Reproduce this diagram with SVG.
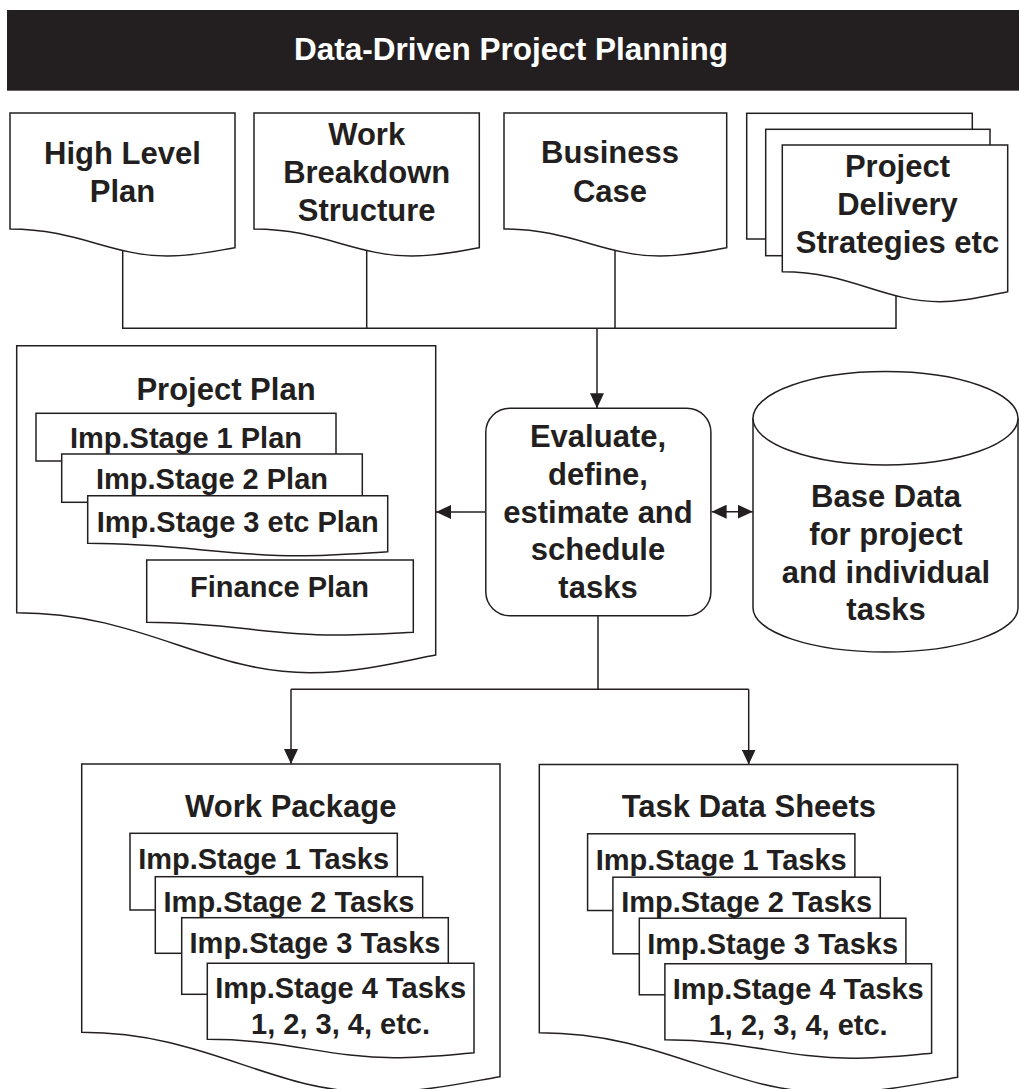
<svg xmlns="http://www.w3.org/2000/svg" width="1019" height="1089" viewBox="0 0 1019 1089">
  <style>
    .shape { fill: #ffffff; stroke: #231f20; stroke-width: 1.5; }
    .wire { fill: none; stroke: #231f20; stroke-width: 1.5; }
    .lbl { font-family: "Liberation Sans", Arial, Helvetica, sans-serif; font-weight: bold; fill: #231f20; text-anchor: middle; }
    .big { font-size: 31px; }
    .mid { font-size: 29px; }
    .title { font-family: "Liberation Sans", Arial, Helvetica, sans-serif; font-weight: bold; font-size: 31.5px; fill: #ffffff; text-anchor: middle; }
  </style>
  <defs>
    <marker id="arrow" markerUnits="userSpaceOnUse" markerWidth="16" markerHeight="14" refX="15" refY="7" orient="auto-start-reverse">
      <path d="M0,0 L15,7 L0,14 Z" fill="#231f20"/>
    </marker>
  </defs>

  <!-- heading bar -->
  <g id="title">
    <rect x="7" y="10" width="1012" height="80.7" fill="#231f20"/>
    <text class="title" x="511" y="60">Data-Driven Project Planning</text>
  </g>

  <!-- connectors (drawn first so the node fills hide their inner ends) -->
  <g id="connectors">
    <path class="wire" d="M122.7,240 V328.3 H896 V285"/>
    <path class="wire" d="M366.7,240 V328.3"/>
    <path class="wire" d="M615,240 V328.3"/>
    <path class="wire" d="M597,328.3 V408.3" marker-end="url(#arrow)"/>
    <path class="wire" d="M485.8,512 H436" marker-end="url(#arrow)"/>
    <path class="wire" d="M711.6,511.7 H752.8" marker-start="url(#arrow)" marker-end="url(#arrow)"/>
    <path class="wire" d="M598,615.7 V689.3"/>
    <path class="wire" d="M291,689.3 H748.7"/>
    <path class="wire" d="M291,689.3 V764" marker-end="url(#arrow)"/>
    <path class="wire" d="M748.7,689.3 V764.5" marker-end="url(#arrow)"/>
  </g>

  <!-- input documents -->
  <g id="high-level-plan">
    <path class="shape" d="M10,113 H235 V247.7 C219.3,250.2 194.5,256 167.5,256 C111.3,256 77.5,229 10,229 Z"/>
    <text class="lbl big" x="122.5" y="164">High Level</text>
    <text class="lbl big" x="122.5" y="202.3">Plan</text>
  </g>

  <g id="work-breakdown-structure">
    <path class="shape" d="M254,113 H479.3 V247.7 C463.5,250.2 438.7,256 411.7,256 C355.4,256 321.6,229 254,229 Z"/>
    <text class="lbl big" x="366.7" y="145">Work</text>
    <text class="lbl big" x="366.7" y="182.7">Breakdown</text>
    <text class="lbl big" x="366.7" y="220.7">Structure</text>
  </g>

  <g id="business-case">
    <path class="shape" d="M504,113 H726.7 V247.7 C711.1,250.2 686.6,256 659.9,256 C604.2,256 570.8,229 504,229 Z"/>
    <text class="lbl big" x="610" y="163.3">Business</text>
    <text class="lbl big" x="610" y="201.7">Case</text>
  </g>

  <g id="project-delivery-strategies">
    <rect class="shape" x="746.7" y="113.3" width="225.6" height="125.7"/>
    <rect class="shape" x="765.7" y="129.3" width="224.3" height="126.4"/>
    <path class="shape" d="M782.3,145 H1007.7 V291.7 C991.9,294.7 967.1,301.7 940.1,301.7 C883.7,301.7 849.9,271.7 782.3,271.7 Z"/>
    <text class="lbl big" x="897.5" y="176.7">Project</text>
    <text class="lbl big" x="897.5" y="215">Delivery</text>
    <text class="lbl big" x="897.5" y="252.7">Strategies etc</text>
  </g>

  <!-- project plan with its sub-plans -->
  <g id="project-plan">
    <path class="shape" d="M16.7,345.7 H435.7 V655 C406.4,660.3 360.3,672.7 310,672.7 C205.3,672.7 142.4,612.7 16.7,612.7 Z"/>
    <text class="lbl big" x="226" y="400">Project Plan</text>
    <rect class="shape" x="36" y="413.3" width="300" height="47.7"/>
    <text class="lbl mid" x="186" y="448.3">Imp.Stage 1 Plan</text>
    <rect class="shape" x="61.7" y="454" width="300.6" height="48.3"/>
    <text class="lbl mid" x="212" y="489.3">Imp.Stage 2 Plan</text>
    <path class="shape" d="M87.7,495.7 H387.7 V551.7 C366.7,552.9 333.7,555.7 297.7,555.7 C222.7,555.7 177.7,543.3 87.7,543.3 Z"/>
    <text class="lbl mid" x="237.7" y="531.7">Imp.Stage 3 etc Plan</text>
    <path class="shape" d="M146.7,560 H413.3 V632.3 C394.6,633.1 365.3,635 333.3,635 C266.7,635 226.7,622.3 146.7,622.3 Z"/>
    <text class="lbl mid" x="279.5" y="596.7">Finance Plan</text>
  </g>

  <!-- central process -->
  <g id="evaluate-process">
    <rect class="shape" x="485.8" y="408.3" width="225.1" height="207.4" rx="24" ry="24"/>
    <text class="lbl big" x="598" y="446.7">Evaluate,</text>
    <text class="lbl big" x="598" y="485">define,</text>
    <text class="lbl big" x="598" y="523.3">estimate and</text>
    <text class="lbl big" x="598" y="560">schedule</text>
    <text class="lbl big" x="598" y="598.3">tasks</text>
  </g>

  <!-- data store -->
  <g id="base-data">
    <path class="shape" d="M753,418.3 V608 A132.5,44 0 0 0 1018,608 V418.3"/>
    <ellipse class="shape" cx="885.5" cy="418.3" rx="132.5" ry="46.7"/>
    <text class="lbl big" x="886" y="506.7">Base Data</text>
    <text class="lbl big" x="886" y="545">for project</text>
    <text class="lbl big" x="886" y="583.3">and individual</text>
    <text class="lbl big" x="886" y="620">tasks</text>
  </g>

  <!-- outputs -->
  <g id="work-package">
    <path class="shape" d="M81.7,764 H500 V1076.7 C470.7,1081.4 424.7,1092.3 374.5,1092.3 C269.9,1092.3 207.2,1032.3 81.7,1032.3 Z"/>
    <text class="lbl big" x="290.8" y="816.7">Work Package</text>
    <rect class="shape" x="130" y="833.3" width="267.3" height="76.7"/>
    <text class="lbl mid" x="263.6" y="869.3">Imp.Stage 1 Tasks</text>
    <rect class="shape" x="155.3" y="876.7" width="267.4" height="76.6"/>
    <text class="lbl mid" x="289" y="911.7">Imp.Stage 2 Tasks</text>
    <rect class="shape" x="181.7" y="917.7" width="266.6" height="76.6"/>
    <text class="lbl mid" x="315" y="953.3">Imp.Stage 3 Tasks</text>
    <path class="shape" d="M207.3,963.3 H474 V1052.7 C455.3,1054.2 426,1057.7 394,1057.7 C327.3,1057.7 287.3,1039.3 207.3,1039.3 Z"/>
    <text class="lbl mid" x="340.6" y="998.3">Imp.Stage 4 Tasks</text>
    <text class="lbl mid" x="340.6" y="1034.3">1, 2, 3, 4, etc.</text>
  </g>

  <g id="task-data-sheets" transform="translate(457.6,0.5)">
    <path class="shape" d="M81.7,764 H500 V1076.7 C470.7,1081.4 424.7,1092.3 374.5,1092.3 C269.9,1092.3 207.2,1032.3 81.7,1032.3 Z"/>
    <text class="lbl big" x="291.3" y="816.2">Task Data Sheets</text>
    <rect class="shape" x="130" y="833.3" width="267.3" height="76.7"/>
    <text class="lbl mid" x="263.6" y="869.3">Imp.Stage 1 Tasks</text>
    <rect class="shape" x="155.3" y="876.7" width="267.4" height="76.6"/>
    <text class="lbl mid" x="289" y="911.7">Imp.Stage 2 Tasks</text>
    <rect class="shape" x="181.7" y="917.7" width="266.6" height="76.6"/>
    <text class="lbl mid" x="315" y="953.3">Imp.Stage 3 Tasks</text>
    <path class="shape" d="M207.3,963.3 H474 V1052.7 C455.3,1054.2 426,1057.7 394,1057.7 C327.3,1057.7 287.3,1039.3 207.3,1039.3 Z"/>
    <text class="lbl mid" x="340.6" y="998.3">Imp.Stage 4 Tasks</text>
    <text class="lbl mid" x="340.6" y="1034.3">1, 2, 3, 4, etc.</text>
  </g>
</svg>
